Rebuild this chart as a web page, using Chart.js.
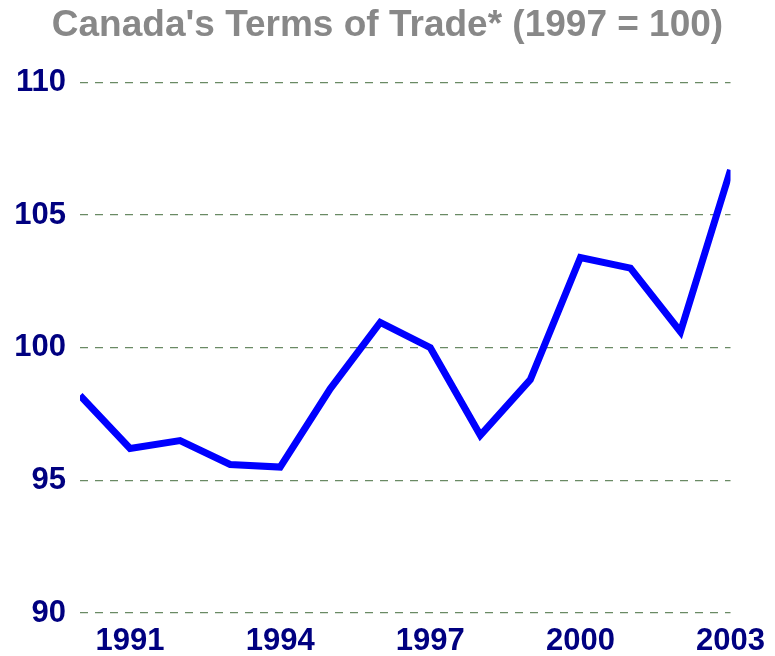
<!DOCTYPE html>
<html>
<head>
<meta charset="utf-8">
<script src="https://cdn.jsdelivr.net/npm/chart.js@4"></script>
<style>
  html, body { margin: 0; padding: 0; background: #fff; }
  #wrap { width: 775px; height: 656px; position: relative; }
</style>
</head>
<body>
<div id="wrap"><canvas id="chart"></canvas></div>
<script>
const years = ['1990', '1991', '1992', '1993', '1994', '1995', '1996',
  '1997', '1998', '1999', '2000', '2001', '2002', '2003'];
const termsOfTrade = [98.2, 96.2, 96.5, 95.6, 95.5, 98.45, 100.95,
  100.0, 96.7, 98.8, 103.4, 103.0, 100.6, 106.7];
const shownYears = ['1991', '1994', '1997', '2000', '2003'];
const yTicks = [90, 95, 100, 105, 110];

const font = 'Liberation Sans, Arial, sans-serif';

new Chart(document.getElementById('chart'), {
  type: 'line',
  data: {
    labels: years,
    datasets: [{
      data: termsOfTrade,
      borderColor: '#0000ff',
      borderWidth: 7,
      tension: 0,
      pointRadius: 0,
      fill: false,
      clip: 0,
    }],
  },
  options: {
    responsive: true,
    maintainAspectRatio: false,
    animation: false,
    plugins: {
      legend: { display: false },
      tooltip: { enabled: false },
      title: {
        display: true,
        text: "Canada's Terms of Trade* (1997 = 100)",
        color: '#888888',
        font: { family: font, size: 37, weight: 'bold' },
        padding: { top: 4, bottom: 34 },
      },
    },
    scales: {
      x: {
        grid: { display: false, drawTicks: false },
        border: { display: false },
        offset: false,
        ticks: {
          autoSkip: false,
          maxRotation: 0,
          color: '#000080',
          font: { family: font, size: 31, weight: 'bold' },
          padding: 10,
          callback: function (value) {
            const lbl = this.getLabelForValue(value);
            return shownYears.includes(lbl) ? lbl : '';
          },
        },
        afterFit: (scale) => { scale.height = 43; },
      },
      y: {
        min: 90,
        max: 110,
        afterBuildTicks: (scale) => {
          scale.ticks = yTicks.map((v) => ({ value: v }));
        },
        grid: {
          color: '#6a8a64',
          lineWidth: 1.3,
          drawTicks: false,
        },
        border: { display: false, dash: [8, 7] },
        ticks: {
          color: '#000080',
          font: { family: font, size: 31, weight: 'bold' },
          padding: 14,
        },
        afterFit: (scale) => { scale.width = 80; },
      },
    },
  },
});
</script>
</body>
</html>
